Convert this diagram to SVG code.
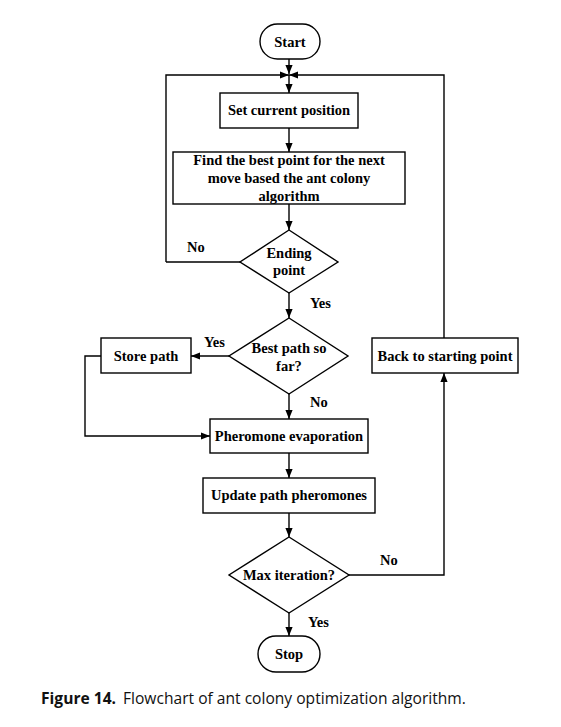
<svg xmlns="http://www.w3.org/2000/svg" width="561" height="727" viewBox="0 0 561 727">
<defs>
<marker id="ah" viewBox="0 0 10 10" refX="10" refY="5" markerWidth="9" markerHeight="9" markerUnits="userSpaceOnUse" orient="auto">
<path d="M0,1 L10,5 L0,9 Z" fill="#000"/>
</marker>
<style>
.s{fill:#fff;stroke:#000;stroke-width:1.4}
.c{fill:none;stroke:#000;stroke-width:1.4}
.a{marker-end:url(#ah)}
.t{font-family:"Liberation Serif","Times New Roman",serif;font-weight:bold;font-size:14.5px;fill:#000;text-anchor:middle}
.l{font-family:"Liberation Serif","Times New Roman",serif;font-weight:bold;font-size:14.5px;fill:#000}
.cap{font-family:"Open Sans","Noto Sans",sans-serif;font-size:15.6px;fill:#111}
</style>
</defs>
<rect width="561" height="727" fill="#fff"/>
<g id="connectors">
<path class="c a" d="M289,59 V74"/>
<path class="c a" d="M166,262 H240 M166,262 V75 H289"/>
<path class="c a" d="M444,338 V75 H289"/>
<path class="c a" d="M289,75 V93"/>
<path class="c a" d="M289,128 V152"/>
<path class="c a" d="M289,204 V230"/>
<path class="c a" d="M289,293 V318"/>
<path class="c a" d="M229,356 H191"/>
<path class="c a" d="M101,356 H85 V436 H210"/>
<path class="c a" d="M289,394 V419"/>
<path class="c a" d="M289,453 V478"/>
<path class="c a" d="M289,513 V537"/>
<path class="c a" d="M349,575 H444 V373"/>
<path class="c a" d="M289,613 V636"/>
</g>
<g id="start"><rect class="s" x="260" y="24" width="60" height="35" rx="17.5"/><text class="t" x="290" y="47">Start</text></g>
<g id="set-position"><rect class="s" x="220" y="93" width="138" height="35"/><text class="t" x="289" y="115">Set current position</text></g>
<g id="find-best"><rect class="s" x="173" y="152" width="232" height="52"/><text class="t" x="289" y="165"><tspan x="289" dy="0">Find the best point for the next</tspan><tspan x="289" dy="18">move based the ant colony</tspan><tspan x="289" dy="17.5">algorithm</tspan></text></g>
<g id="ending-point"><polygon class="s" points="289,230 338,262 289,293 240,262"/><text class="t" x="289" y="258">Ending</text><text class="t" x="289" y="275">point</text></g>
<g id="best-path"><polygon class="s" points="289,318 348,356 289,394 229,356"/><text class="t" x="289" y="353">Best path so</text><text class="t" x="289" y="371">far?</text></g>
<g id="store-path"><rect class="s" x="101" y="338" width="90" height="35"/><text class="t" x="146" y="361">Store path</text></g>
<g id="back-start"><rect class="s" x="372" y="338" width="146" height="35"/><text class="t" x="445" y="361">Back to starting point</text></g>
<g id="evaporation"><rect class="s" x="210" y="419" width="158" height="34"/><text class="t" x="289" y="441">Pheromone evaporation</text></g>
<g id="update"><rect class="s" x="203" y="478" width="172" height="35"/><text class="t" x="289" y="500">Update path pheromones</text></g>
<g id="max-iteration"><polygon class="s" points="289,537 349,575 289,613 229,575"/><text class="t" x="289" y="580">Max iteration?</text></g>
<g id="stop"><rect class="s" x="258" y="636" width="62" height="36" rx="18"/><text class="t" x="289" y="659">Stop</text></g>
<g id="labels">
<text class="l" x="187" y="252">No</text>
<text class="l" x="310" y="308">Yes</text>
<text class="l" x="204" y="347">Yes</text>
<text class="l" x="310" y="407">No</text>
<text class="l" x="380" y="565">No</text>
<text class="l" x="308" y="627">Yes</text>
</g>
<text class="cap" x="41" y="704"><tspan font-weight="bold">Figure 14.</tspan><tspan x="123">Flowchart of ant colony optimization algorithm.</tspan></text>
</svg>
